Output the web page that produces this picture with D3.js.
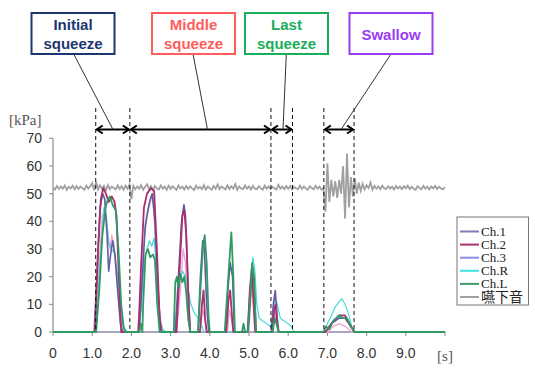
<!DOCTYPE html>
<html lang="en">
<head>
<meta charset="UTF-8">
<title>Squeeze and swallow pressure</title>
<script src="https://d3js.org/d3.v7.min.js"></script>
<style>
  body { margin: 0; background: #fff; }
  svg { display: block; }
</style>
</head>
<body>
<script>
// DATA
var xTicks = [0, 1, 2, 3, 4, 5, 6, 7, 8, 9];
var xTickLabels = ["0", "1.0", "2.0", "3.0", "4.0", "5.0", "6.0", "7.0", "8.0", "9.0"];
var yTicks = [0, 10, 20, 30, 40, 50, 60, 70];

var channelNames = ["Ch.1", "Ch.2", "Ch.3", "Ch.R", "Ch.L", "嚥下音"];

// [time s, pressure kPa]
var ch1 = [[0,0],[1.05,0],[1.12,20],[1.2,45],[1.27,50],[1.32,48],[1.38,35],[1.42,22],[1.47,28],[1.52,33],[1.58,28],[1.65,15],[1.72,3],[1.78,0],
  [2.2,0],[2.28,20],[2.35,38],[2.42,44],[2.48,48],[2.53,50],[2.6,40],[2.68,15],[2.75,0],
  [3.12,0],[3.2,20],[3.28,40],[3.34,46],[3.38,42],[3.45,15],[3.5,0],
  [3.7,0],[3.76,20],[3.82,33],[3.86,30],[3.92,10],[3.97,0],
  [4.4,0],[4.46,15],[4.52,25],[4.58,20],[4.63,0],
  [4.97,0],[5.03,12],[5.08,22],[5.13,18],[5.18,0],
  [5.57,0],[5.62,10],[5.67,15],[5.72,5],[5.76,0],
  [6.95,0],[7.1,3],[7.3,5],[7.45,5],[7.6,2],[7.68,0],[10,0]];

var ch2 = [[0,0],[1.07,0],[1.15,30],[1.22,48],[1.28,52],[1.35,50],[1.42,47],[1.5,49],[1.57,47],[1.62,42],[1.68,20],[1.74,0],
  [2.18,0],[2.25,25],[2.32,45],[2.4,50],[2.5,52],[2.58,51],[2.65,30],[2.72,5],[2.77,0],
  [3.15,0],[3.22,20],[3.3,42],[3.35,44],[3.4,35],[3.46,10],[3.5,0],
  [3.75,0],[3.8,10],[3.84,15],[3.88,5],[3.92,0],
  [4.42,0],[4.48,12],[4.52,15],[4.57,5],[4.6,0],
  [4.97,0],[5.02,15],[5.07,23],[5.12,10],[5.16,0],
  [5.6,0],[5.64,8],[5.68,10],[5.72,3],[5.75,0],
  [6.95,0],[7.1,3],[7.3,6],[7.45,6],[7.6,2],[7.7,0],[10,0]];

var ch3 = [[0,0],[1.08,0],[1.18,25],[1.26,42],[1.32,45],[1.38,38],[1.45,30],[1.5,35],[1.55,32],[1.62,20],[1.7,8],[1.78,2],[1.85,0],
  [2.15,0],[2.22,10],[2.3,30],[2.4,42],[2.48,47],[2.55,50],[2.62,32],[2.7,10],[2.78,0],
  [3.15,0],[3.25,15],[3.32,30],[3.38,25],[3.44,5],[3.5,0],
  [3.75,0],[3.82,8],[3.87,5],[3.92,0],
  [4.45,0],[4.5,8],[4.56,4],[4.6,0],
  [5.0,0],[5.06,15],[5.1,12],[5.15,0],
  [5.6,0],[5.66,8],[5.72,2],[5.76,0],
  [7.0,0],[7.15,2],[7.3,3],[7.45,2],[7.55,1],[7.62,0],[10,0]];

var chR = [[0,0],[1.1,0],[1.2,25],[1.3,45],[1.36,42],[1.42,32],[1.5,30],[1.58,28],[1.65,20],[1.72,6],[1.78,3],[1.84,1],[1.9,0],
  [2.18,0],[2.25,8],[2.32,25],[2.4,30],[2.46,33],[2.52,31],[2.58,34],[2.65,20],[2.72,5],[2.8,1],[2.88,0],
  [3.1,0],[3.18,12],[3.25,20],[3.3,22],[3.38,20],[3.45,15],[3.52,10],[3.6,7],[3.7,5],[3.8,2],[3.85,0],
  [4.95,0],[5.02,15],[5.1,27],[5.15,22],[5.2,10],[5.26,5],[5.35,4],[5.45,3],[5.55,2],
  [5.6,5],[5.66,13],[5.72,10],[5.8,5],[5.9,4],[6.0,3],[6.08,2],[6.15,0],
  [6.9,0],[7.0,3],[7.1,6],[7.2,9],[7.3,11],[7.37,12],[7.45,10],[7.55,6],[7.62,2],[7.68,0],[10,0]];

var chL = [[0,0],[1.1,0],[1.18,15],[1.26,35],[1.34,45],[1.4,48],[1.45,49],[1.52,46],[1.6,44],[1.67,30],[1.74,10],[1.8,2],[1.84,0],
  [2.2,0],[2.24,3],[2.28,0],
  [2.3,10],[2.36,28],[2.42,30],[2.48,27],[2.55,28],[2.6,26],[2.66,10],[2.72,0],
  [3.08,0],[3.12,18],[3.16,20],[3.2,16],[3.25,21],[3.3,18],[3.35,20],[3.4,14],[3.45,5],[3.5,0],
  [3.7,0],[3.76,15],[3.82,30],[3.87,35],[3.92,25],[3.97,5],[4.0,0],
  [4.38,0],[4.45,15],[4.52,30],[4.55,36],[4.6,20],[4.64,0],
  [4.82,0],[4.86,3],[4.9,0],
  [4.97,0],[5.03,12],[5.08,25],[5.13,20],[5.18,0],
  [5.6,0],[5.66,5],[5.72,2],[5.76,0],
  [6.9,0],[6.96,2],[7.05,1],[7.15,4],[7.3,6],[7.4,5],[7.5,5],[7.6,2],[7.7,0],[10,0]];

// swallow sound, sampled every 0.05 s from 0 to 10.0 s
var soundStep = 0.05;
var sound = [
  52.2,51.5,52.8,51.7,52.6,51.8,53.0,51.4,52.5,51.9,52.9,51.6,52.7,51.7,52.6,52.0,51.4,52.9,51.8,52.7,
  53.8,51.2,54.2,51.5,53.0,51.8,52.8,51.2,53.1,51.6,52.6,52.0,51.5,53.0,51.7,52.7,51.4,52.9,51.8,53.2,
  48.0,52.8,51.6,52.6,51.8,53.1,51.4,52.5,53.4,51.6,52.7,51.2,52.8,51.9,51.5,53.0,51.8,52.6,51.4,52.9,
  51.7,52.7,52.0,51.4,53.0,51.8,52.5,51.5,52.8,51.7,52.6,51.9,51.3,52.9,51.8,52.5,51.6,53.1,51.5,52.6,
  51.9,51.4,52.8,51.8,53.3,51.6,52.6,52.0,51.5,53.0,51.7,52.7,51.8,53.4,51.4,52.6,51.9,51.6,52.9,51.8,
  52.6,51.5,52.8,51.8,51.6,52.7,52.0,51.4,52.9,51.8,52.6,51.7,52.5,51.9,51.5,53.2,51.8,52.6,51.6,52.7,
  51.8,52.8,51.5,52.5,51.9,51.6,52.9,51.7,52.6,51.8,51.4,52.7,52.0,51.6,52.8,51.8,52.5,51.5,52.0,43.5,
  61.0,47.0,55.0,49.0,54.5,48.5,55.0,50.0,60.0,41.0,64.5,45.0,56.0,49.0,55.5,50.0,54.0,51.0,53.5,51.5,
  53.0,52.0,54.0,51.4,52.8,51.8,52.6,51.6,52.9,51.9,51.7,52.7,51.8,52.5,51.5,52.8,51.8,52.6,51.6,52.7,
  51.9,52.9,51.7,52.5,51.8,51.4,52.7,52.0,51.6,52.8,51.8,52.5,51.5,52.6,51.9,52.8,51.7,52.5,51.8,51.6,
  52.4];

// phase boundaries (s)
var phaseBounds = [1.09, 1.96, 5.56, 6.11, 6.91, 7.68];
var phaseLabels = [["Initial", "squeeze"], ["Middle", "squeeze"], ["Last", "squeeze"], ["Swallow"]];
var phaseSpans = [[1.09, 1.96], [1.96, 5.56], [5.56, 6.11], [6.91, 7.68]];

// STYLE
var lineColors = ["#5e5ea2", "#a8306e", "#f2a6d6", "#46d8d8", "#2f9a62", "#a0a0a0"];
var legendColors = ["#7c7cb6", "#b03070", "#8c8ce2", "#40e0e0", "#3c9e6c", "#a0a0a0"];
var lineWidths = [1.6, 1.8, 1.4, 1.2, 1.8, 1.8];
var boxColors = ["#1c3670", "#ff5c5c", "#1aae5a", "#9a3cf2"];

var width = 535, height = 371;
var svg = d3.select("body").append("svg")
    .attr("width", width)
    .attr("height", height);

var x = d3.scaleLinear().domain([0, 10]).range([53, 445]);
var y = d3.scaleLinear().domain([0, 70]).range([332, 138.3]);

// y axis
svg.append("line")
    .attr("x1", x(0)).attr("x2", x(0))
    .attr("y1", y(70)).attr("y2", y(0))
    .attr("stroke", "#8a8a8a").attr("stroke-width", 1.2);
yTicks.forEach(function(v) {
    svg.append("line")
        .attr("x1", x(0) - 4).attr("x2", x(0))
        .attr("y1", y(v)).attr("y2", y(v))
        .attr("stroke", "#8a8a8a");
    svg.append("text")
        .attr("x", 42).attr("y", y(v) + 5)
        .attr("text-anchor", "end")
        .attr("font-family", "Arial, 'Liberation Sans', sans-serif")
        .attr("font-size", "14px")
        .attr("fill", "#333")
        .text(v);
});
svg.append("text")
    .attr("x", 9).attr("y", 125)
    .attr("font-family", "'Times New Roman', 'Liberation Serif', serif")
    .attr("font-size", "15px")
    .attr("fill", "#555")
    .text("[kPa]");

// x axis
svg.append("line")
    .attr("x1", x(0)).attr("x2", x(10))
    .attr("y1", y(0)).attr("y2", y(0))
    .attr("stroke", "#8a8aae").attr("stroke-width", 1.5);
xTicks.concat([10]).forEach(function(v) {
    svg.append("line")
        .attr("x1", x(v)).attr("x2", x(v))
        .attr("y1", y(0)).attr("y2", y(0) + 4)
        .attr("stroke", "#8a8a8a");
});
xTicks.forEach(function(v, i) {
    svg.append("text")
        .attr("x", x(v)).attr("y", 358)
        .attr("text-anchor", "middle")
        .attr("font-family", "Arial, 'Liberation Sans', sans-serif")
        .attr("font-size", "14px")
        .attr("fill", "#333")
        .text(xTickLabels[i]);
});
svg.append("text")
    .attr("x", x(10)).attr("y", 361)
    .attr("text-anchor", "middle")
    .attr("font-family", "'Times New Roman', 'Liberation Serif', serif")
    .attr("font-size", "15px")
    .attr("fill", "#555")
    .text("[s]");

// series
var line = d3.line().x(function(d) { return x(d[0]); }).y(function(d) { return y(d[1]); });
var soundPts = sound.map(function(v, i) { return [i * soundStep, v]; });

svg.append("path").datum(soundPts)
    .attr("d", line).attr("fill", "none")
    .attr("stroke", lineColors[5]).attr("stroke-width", lineWidths[5]);

var drawOrder = [[ch3, 2], [chR, 3], [ch1, 0], [ch2, 1], [chL, 4]];
drawOrder.forEach(function(s) {
    svg.append("path").datum(s[0])
        .attr("d", line).attr("fill", "none")
        .attr("stroke", lineColors[s[1]])
        .attr("stroke-width", lineWidths[s[1]])
        .attr("stroke-linejoin", "round");
});

// dashed phase boundaries
phaseBounds.forEach(function(t) {
    svg.append("line")
        .attr("x1", x(t)).attr("x2", x(t))
        .attr("y1", 108).attr("y2", y(0))
        .attr("stroke", "#111").attr("stroke-width", 1)
        .attr("stroke-dasharray", "4,3");
});

// double arrows
var arrowY = 129.5;
phaseSpans.forEach(function(s) {
    var x1 = x(s[0]) + 1, x2 = x(s[1]) - 1;
    svg.append("line")
        .attr("x1", x1).attr("x2", x2)
        .attr("y1", arrowY).attr("y2", arrowY)
        .attr("stroke", "#000").attr("stroke-width", 2);
    svg.append("path")
        .attr("d", "M" + (x1 + 6) + "," + (arrowY - 4) + "L" + x1 + "," + arrowY + "L" + (x1 + 6) + "," + (arrowY + 4))
        .attr("fill", "none").attr("stroke", "#000").attr("stroke-width", 2);
    svg.append("path")
        .attr("d", "M" + (x2 - 6) + "," + (arrowY - 4) + "L" + x2 + "," + arrowY + "L" + (x2 - 6) + "," + (arrowY + 4))
        .attr("fill", "none").attr("stroke", "#000").attr("stroke-width", 2);
});

// callout boxes + leader lines
var boxX = [31.5, 152, 245, 349.5];
var leaderTop = [73.7, 193, 286.3, 391];
var leaderEnd = [113, 207.5, 283, 341];
phaseLabels.forEach(function(lbl, i) {
    svg.append("line")
        .attr("x1", leaderTop[i]).attr("y1", 54)
        .attr("x2", leaderEnd[i]).attr("y2", arrowY)
        .attr("stroke", "#333").attr("stroke-width", 1);
    svg.append("rect")
        .attr("x", boxX[i]).attr("y", 13)
        .attr("width", 83).attr("height", 41)
        .attr("fill", "#fff")
        .attr("stroke", boxColors[i]).attr("stroke-width", 2);
    var t = svg.append("text")
        .attr("text-anchor", "middle")
        .attr("font-family", "Arial, 'Liberation Sans', sans-serif")
        .attr("font-weight", "bold")
        .attr("font-size", "15px")
        .attr("fill", boxColors[i]);
    if (lbl.length === 2) {
        t.append("tspan").attr("x", boxX[i] + 41.5).attr("y", 30).text(lbl[0]);
        t.append("tspan").attr("x", boxX[i] + 41.5).attr("y", 49).text(lbl[1]);
    } else {
        t.attr("x", boxX[i] + 41.5).attr("y", 39.5).text(lbl[0]);
    }
});

// legend
var legend = svg.append("g");
legend.append("rect")
    .attr("x", 457).attr("y", 217)
    .attr("width", 71.5).attr("height", 88)
    .attr("fill", "#fff").attr("stroke", "#777").attr("stroke-width", 1);
channelNames.forEach(function(name, i) {
    var ly = 231.5 + i * 13.1;
    legend.append("line")
        .attr("x1", 460).attr("x2", 479)
        .attr("y1", ly).attr("y2", ly)
        .attr("stroke", legendColors[i]).attr("stroke-width", 2);
    legend.append("text")
        .attr("x", 481).attr("y", ly + 4.5)
        .attr("font-family", i === 5 ? "'Noto Sans CJK JP', sans-serif" : "'Times New Roman', 'Liberation Serif', serif")
        .attr("font-size", i === 5 ? "14px" : "13px")
        .attr("fill", "#222")
        .text(name);
});
</script>
</body>
</html>
